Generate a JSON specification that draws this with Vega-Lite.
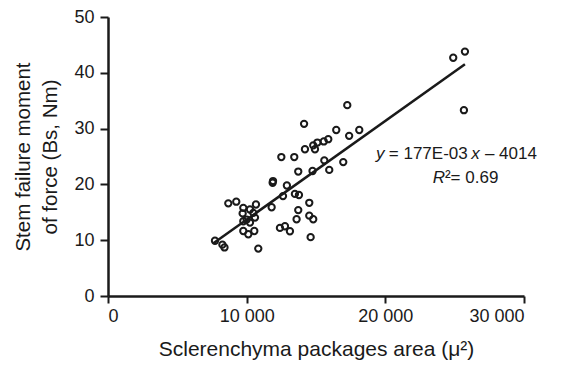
{
  "$schema": "https://vega.github.io/schema/vega-lite/v6.json",
  "width": 416,
  "height": 279,
  "autosize": {"type": "none"},
  "padding": {"left": 108, "top": 17, "right": 37, "bottom": 70},
  "background": "white",
  "config": {
    "font": "Liberation Sans",
    "view": {"stroke": null},
    "axis": {
      "domainColor": "#1a1a1a",
      "domainWidth": 2.5,
      "tickColor": "#1a1a1a",
      "tickWidth": 2,
      "grid": false,
      "labelColor": "#1a1a1a",
      "titleColor": "#1a1a1a",
      "labelFont": "Liberation Sans",
      "titleFont": "Liberation Sans",
      "titleFontWeight": "normal",
      "labelFontSize": 18,
      "titleFontSize": 20.5
    }
  },
  "encoding": {
    "x": {
      "field": "x",
      "type": "quantitative",
      "scale": {"domain": [0, 30000], "nice": false, "zero": false},
      "axis": {
        "values": [0, 10000, 20000, 30000],
        "labelExpr": "replace(format(datum.value, ','), ',', ' ')",
        "tickSize": 7,
        "labelPadding": 4,
        "titlePadding": 13,
        "titleFontSize": 21,
        "title": "Sclerenchyma packages area (μ²)"
      }
    },
    "y": {
      "field": "y",
      "type": "quantitative",
      "scale": {"domain": [0, 50], "nice": false, "zero": false},
      "axis": {
        "values": [0, 10, 20, 30, 40, 50],
        "tickSize": 8,
        "labelPadding": 6,
        "titlePadding": 13,
        "titleLineHeight": 27,
        "title": ["Stem failure moment", "of force (Bs, Nm)"]
      }
    }
  },
  "layer": [
    {
      "data": {
        "values": [
          {"x": 7715, "y": 9.9}, {"x": 8250, "y": 9.2}, {"x": 8400, "y": 8.7},
          {"x": 8675, "y": 16.6}, {"x": 9250, "y": 16.9}, {"x": 9757, "y": 15.8},
          {"x": 9710, "y": 14.8}, {"x": 10238, "y": 15.5}, {"x": 10670, "y": 16.4},
          {"x": 10000, "y": 13.7}, {"x": 9757, "y": 13.4}, {"x": 10238, "y": 13.15},
          {"x": 10598, "y": 14.05}, {"x": 10478, "y": 14.9}, {"x": 9757, "y": 11.65},
          {"x": 10117, "y": 11.06}, {"x": 10550, "y": 11.65}, {"x": 10838, "y": 8.5},
          {"x": 11800, "y": 15.9}, {"x": 12400, "y": 12.2}, {"x": 12762, "y": 12.5},
          {"x": 13120, "y": 11.6}, {"x": 14613, "y": 10.55}, {"x": 13600, "y": 13.75},
          {"x": 14515, "y": 14.4}, {"x": 14800, "y": 13.75}, {"x": 13720, "y": 15.4},
          {"x": 14515, "y": 16.7}, {"x": 12620, "y": 17.9}, {"x": 13480, "y": 18.3},
          {"x": 13770, "y": 18.1}, {"x": 11874, "y": 20.3}, {"x": 11900, "y": 20.6},
          {"x": 12900, "y": 19.8}, {"x": 13720, "y": 22.3}, {"x": 14750, "y": 22.4},
          {"x": 15955, "y": 22.6}, {"x": 12500, "y": 24.9}, {"x": 13432, "y": 24.9},
          {"x": 15600, "y": 24.3}, {"x": 16965, "y": 24.0}, {"x": 14203, "y": 26.3},
          {"x": 14925, "y": 26.3}, {"x": 14800, "y": 27.0}, {"x": 15100, "y": 27.5},
          {"x": 15560, "y": 27.7}, {"x": 15885, "y": 28.1}, {"x": 16460, "y": 29.75},
          {"x": 18120, "y": 29.75}, {"x": 17390, "y": 28.7}, {"x": 14140, "y": 30.85},
          {"x": 17255, "y": 34.2}, {"x": 24896, "y": 42.7}, {"x": 25740, "y": 43.8},
          {"x": 25667, "y": 33.3}
        ]
      },
      "mark": {"type": "point", "shape": "circle", "filled": false, "color": "#1a1a1a", "strokeWidth": 2, "size": 40, "opacity": 1}
    },
    {
      "data": {"values": [{"x": 7600, "y": 9.44}, {"x": 25740, "y": 41.55}]},
      "mark": {"type": "line", "color": "#1a1a1a", "strokeWidth": 2.5}
    },
    {
      "data": {
        "values": [
          {"x": 19322, "y": 24.5, "t": "y"},
          {"x": 26200, "y": 24.5, "t": "x"},
          {"x": 23411, "y": 20.3, "t": "R"}
        ]
      },
      "mark": {"type": "text", "align": "left", "baseline": "alphabetic", "fontSize": 17, "fontStyle": "italic", "color": "#1a1a1a", "font": "Liberation Sans"},
      "encoding": {"text": {"field": "t"}}
    },
    {
      "data": {
        "values": [
          {"x": 20250, "y": 24.5, "t": "= 177E-03"},
          {"x": 27180, "y": 24.5, "t": "– 4014"},
          {"x": 24298, "y": 20.3, "t": "²= 0.69"}
        ]
      },
      "mark": {"type": "text", "align": "left", "baseline": "alphabetic", "fontSize": 17, "color": "#1a1a1a", "font": "Liberation Sans"},
      "encoding": {"text": {"field": "t"}}
    }
  ]
}
